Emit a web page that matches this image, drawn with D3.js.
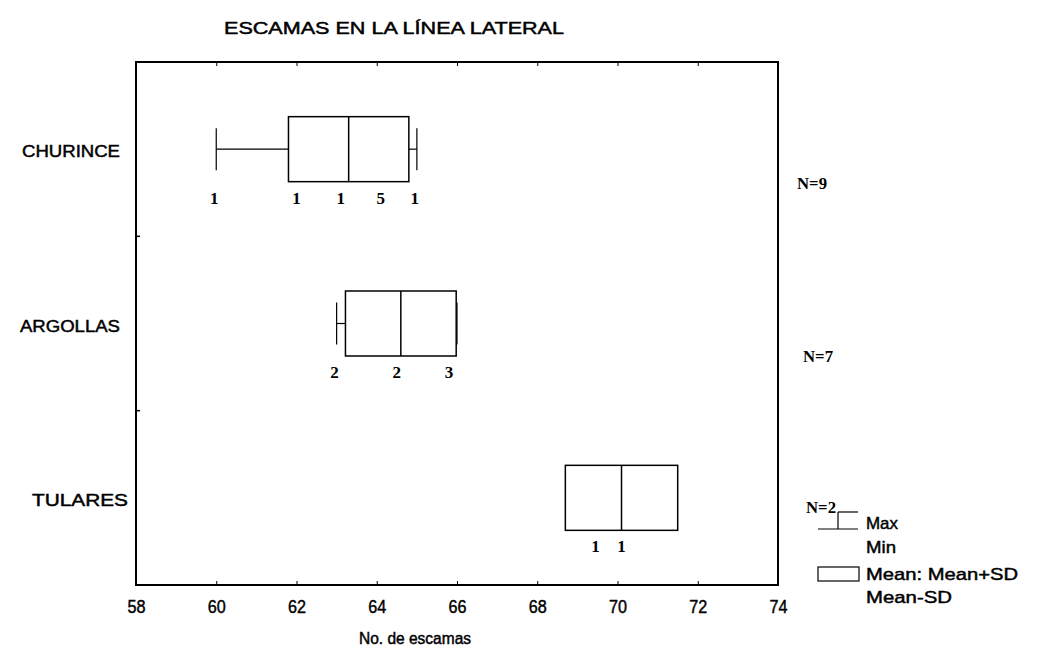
<!DOCTYPE html>
<html>
<head>
<meta charset="utf-8">
<script src="https://cdn.jsdelivr.net/npm/d3@7"></script>
<style>
  body { margin: 0; background: #fff; }
  text { fill: #000; }
  .scan { stroke: #000; stroke-width: 0.45px; }
</style>
</head>
<body>
<div id="chart-container"></div>
<script>
const width = 1040;
const height = 655;

// data
const groups = ["CHURINCE", "ARGOLLAS", "TULARES"];
const means = [63.3, 64.6, 70.1];
const sds = [1.5, 1.38, 1.4];
const mins = [60, 63, 69];
const maxs = [65, 66, 71];
const nCounts = [9, 7, 2];
// frequency labels under each box: where they sit (in scale units) and the count
const countAt = [
	[59.95, 62, 63.1, 64.1, 64.95],
	[62.95, 64.5, 65.8],
	[69.45, 70.1]
];
const countVals = [
	[1, 1, 1, 5, 1],
	[2, 2, 3],
	[1, 1]
];
const xTicks = [58, 60, 62, 64, 66, 68, 70, 72, 74];

const frame = { left: 136, right: 778, top: 62, bottom: 585 };

const svg = d3
	.select("#chart-container")
	.append("svg")
	.attr("width", width)
	.attr("height", height);

const x = d3.scaleLinear().domain([58, 74]).range([frame.left, frame.right]);
const y = d3
	.scalePoint()
	.domain(groups)
	.range([frame.top, frame.bottom])
	.padding(0.5);
const boxH = 65;
const sans = "'Liberation Sans', Arial, sans-serif";
const serif = "'Liberation Serif', 'Times New Roman', serif";

// title
svg.append("text")
	.attr("class", "scan")
	.attr("x", 224)
	.attr("y", 34)
	.attr("textLength", 340)
	.attr("lengthAdjust", "spacingAndGlyphs")
	.style("font-family", sans)
	.style("font-size", "16px")
	.text("ESCAMAS EN LA LÍNEA LATERAL");

// frame
svg.append("rect")
	.attr("x", frame.left)
	.attr("y", frame.top)
	.attr("width", frame.right - frame.left)
	.attr("height", frame.bottom - frame.top)
	.attr("fill", "none")
	.attr("stroke", "#000")
	.attr("stroke-width", 2);

// x axis (bottom, ticks inward) + mirror on top
const xAxis = svg
	.append("g")
	.attr("transform", `translate(0,${frame.bottom})`)
	.attr("font-size", 18)
	.attr("font-family", sans)
	.call(d3.axisBottom(x).tickValues(xTicks).tickSize(-4).tickPadding(14));
xAxis.select(".domain").remove();
xAxis.selectAll("text")
	.attr("class", "scan")
	.attr("font-size", 18)
	.attr("textLength", 18)
	.attr("lengthAdjust", "spacingAndGlyphs")
	.attr("dy", "0.8em");

const xTop = svg
	.append("g")
	.attr("transform", `translate(0,${frame.top})`)
	.call(d3.axisTop(x).tickValues(xTicks).tickSize(-4).tickFormat(""));
xTop.select(".domain").remove();

// y ticks between categories on left edge
const step = y.step();
svg.selectAll(".ytick")
	.data([1, 2])
	.enter()
	.append("line")
	.attr("x1", frame.left)
	.attr("x2", frame.left + 4)
	.attr("y1", (d) => frame.top + d * step)
	.attr("y2", (d) => frame.top + d * step)
	.attr("stroke", "#000")
	.attr("stroke-width", 1.5);

svg.append("text")
	.attr("class", "scan")
	.attr("x", 359)
	.attr("y", 644)
	.attr("textLength", 112)
	.attr("lengthAdjust", "spacingAndGlyphs")
	.style("font-family", sans)
	.style("font-size", "16px")
	.text("No. de escamas");

// category labels
const labelBox = [[22, 98], [20, 100], [32, 96]];
svg.selectAll(".cat")
	.data(groups)
	.enter()
	.append("text")
	.attr("class", "scan")
	.attr("x", (d, i) => labelBox[i][0])
	.attr("y", (d) => y(d) + 8)
	.attr("textLength", (d, i) => labelBox[i][1])
	.attr("lengthAdjust", "spacingAndGlyphs")
	.style("font-family", sans)
	.style("font-size", "16px")
	.text((d) => d);

// boxes
const g = svg.selectAll(".grp")
	.data(groups)
	.enter()
	.append("g")
	.attr("class", "grp");

g.each(function (d, i) {
	const el = d3.select(this);
	const cy = y(d);
	const lo = means[i] - sds[i];
	const hi = means[i] + sds[i];

	// whiskers, only the part outside the box
	if (mins[i] < lo) {
		el.append("line")
			.attr("x1", x(mins[i])).attr("x2", x(lo))
			.attr("y1", cy).attr("y2", cy)
			.attr("stroke", "#000").attr("stroke-width", 1.2);
		el.append("line")
			.attr("x1", x(mins[i])).attr("x2", x(mins[i]))
			.attr("y1", cy - 21).attr("y2", cy + 21)
			.attr("stroke", "#000").attr("stroke-width", 1.2);
	}
	if (maxs[i] > hi) {
		el.append("line")
			.attr("x1", x(hi)).attr("x2", x(maxs[i]))
			.attr("y1", cy).attr("y2", cy)
			.attr("stroke", "#000").attr("stroke-width", 1.2);
		el.append("line")
			.attr("x1", x(maxs[i])).attr("x2", x(maxs[i]))
			.attr("y1", cy - 21).attr("y2", cy + 21)
			.attr("stroke", "#000").attr("stroke-width", 1.2);
	}

	el.append("rect")
		.attr("x", x(lo))
		.attr("y", cy - boxH / 2)
		.attr("width", x(hi) - x(lo))
		.attr("height", boxH)
		.attr("fill", "#fff")
		.attr("stroke", "#000")
		.attr("stroke-width", 1.5);
	el.append("line")
		.attr("x1", x(means[i])).attr("x2", x(means[i]))
		.attr("y1", cy - boxH / 2).attr("y2", cy + boxH / 2)
		.attr("stroke", "#000").attr("stroke-width", 1.5);

	// frequency labels
	el.selectAll(".cnt")
		.data(countAt[i])
		.enter()
		.append("text")
		.attr("x", (v) => x(v))
		.attr("y", cy + boxH / 2 + 22)
		.attr("text-anchor", "middle")
		.style("font-family", serif)
		.style("font-weight", "bold")
		.style("font-size", "17px")
		.text((v, j) => countVals[i][j]);
});

// N labels
const nPos = [[797, 40], [803, 38], [806, 15]];
svg.selectAll(".nlab")
	.data(groups)
	.enter()
	.append("text")
	.attr("x", (d, i) => nPos[i][0])
	.attr("y", (d, i) => y(d) + nPos[i][1])
	.attr("textLength", 30)
	.attr("lengthAdjust", "spacingAndGlyphs")
	.style("font-family", serif)
	.style("font-weight", "bold")
	.style("font-size", "17px")
	.text((d, i) => `N=${nCounts[i]}`);

// legend
const leg = svg.append("g");
leg.append("line").attr("x1", 818).attr("x2", 858).attr("y1", 529).attr("y2", 529)
	.attr("stroke", "#000").attr("stroke-width", 1.2);
leg.append("line").attr("x1", 838).attr("x2", 838).attr("y1", 512).attr("y2", 529)
	.attr("stroke", "#000").attr("stroke-width", 1.2);
leg.append("line").attr("x1", 838).attr("x2", 858).attr("y1", 512).attr("y2", 512)
	.attr("stroke", "#000").attr("stroke-width", 1.2);
leg.append("rect").attr("x", 818).attr("y", 567).attr("width", 41).attr("height", 14)
	.attr("fill", "#fff").attr("stroke", "#000").attr("stroke-width", 1.2);

const legText = [
	["Max", 529, 32],
	["Min", 553, 30],
	["Mean: Mean+SD", 580, 152],
	["Mean-SD", 603, 86]
];
leg.selectAll(".lt")
	.data(legText)
	.enter()
	.append("text")
	.attr("class", "scan")
	.attr("x", 866)
	.attr("y", (d) => d[1])
	.attr("textLength", (d) => d[2])
	.attr("lengthAdjust", "spacingAndGlyphs")
	.style("font-family", sans)
	.style("font-size", "17px")
	.text((d) => d[0]);
</script>
</body>
</html>
